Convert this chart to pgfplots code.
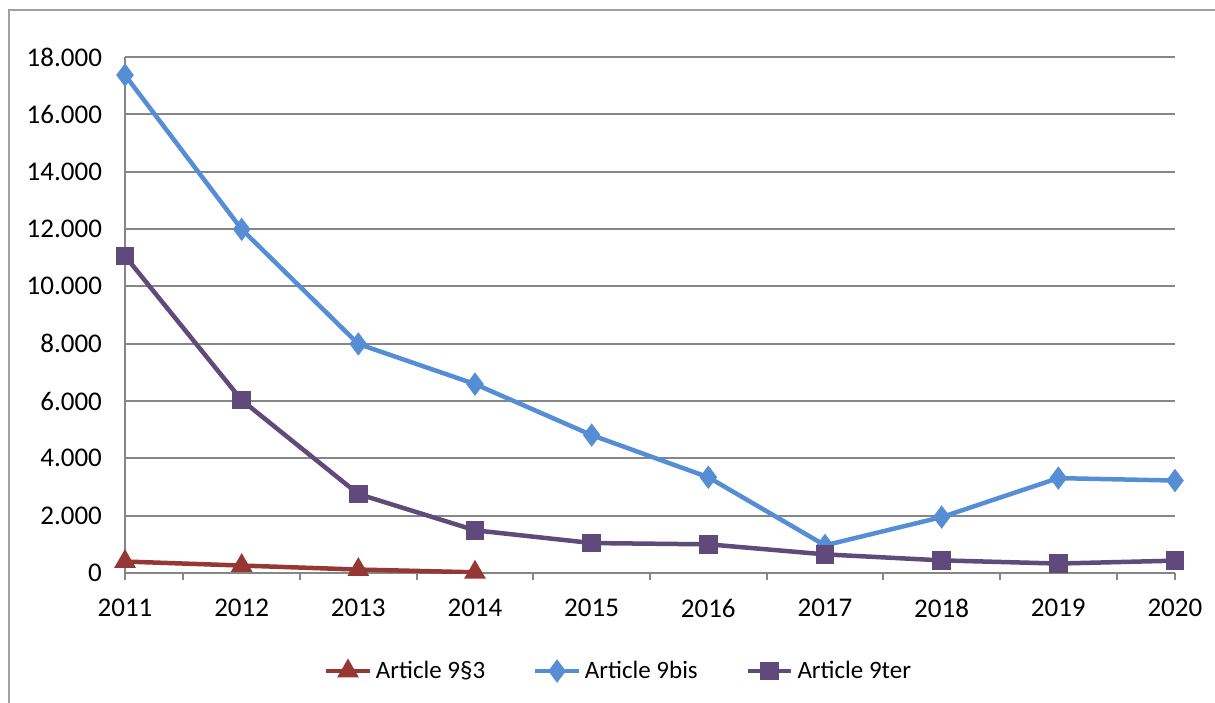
\documentclass[border=0pt]{standalone}
\usepackage{pgfplots}
\pgfplotsset{compat=1.18}
\usepackage{fontspec}
\setmainfont{Carlito}

\definecolor{c93}{RGB}{149,55,53}
\definecolor{cbis}{RGB}{85,142,213}
\definecolor{cter}{RGB}{96,74,123}
\definecolor{gridgray}{RGB}{134,134,134}
\definecolor{framegray}{RGB}{160,160,160}

\begin{document}
\begin{tikzpicture}
\useasboundingbox (-62.5pt,-64.5pt) rectangle (545pt,286.5pt);
\draw[framegray, line width=0.75pt] (-58pt,-70pt) -- (-58pt,281.5pt) -- (560pt,281.5pt);
\begin{axis}[
    at={(0,0)}, anchor=south west,
    scale only axis,
    width=525pt, height=258pt,
    xmin=2011, xmax=2020,
    ymin=0, ymax=18000,
    axis lines*=left,
    axis line style={gridgray, line width=1pt},
    xtick={2011,...,2020},
    minor xtick={2011,2011.5,2012.5,2013.5,2014.5,2015.5,2016.5,2017.5,2018.5,2019.5,2020},
    major tick length=0pt,
    minor tick length=3.5pt,
    tick align=outside,
    minor tick style={gridgray, line width=1pt},
    ytick={0,2000,...,18000},
    ymajorgrids,
    grid style={gridgray, line width=1pt},
    scaled y ticks=false,
    xticklabel={\pgfmathprintnumber[1000 sep={}]{\tick}},
    /pgf/number format/.cd, 1000 sep={.}, assume math mode=true,
    /pgfplots/.cd,
    ticklabel style={font=\fontsize{13.5}{16}\selectfont, text=black},
    xticklabel style={yshift=-9.5pt},
    yticklabel style={xshift=-8pt},
    legend style={at={(0.471,-0.19)}, anchor=center, draw=none,
        legend columns=3, font=\fontsize{12.5}{15}\selectfont,
        /tikz/every even column/.append style={column sep=22pt}},
    legend image code/.code={
        \draw[mark repeat=2, mark phase=2] plot coordinates {(0cm,0cm) (0.38cm,0cm) (0.76cm,0cm)};
    },
    every axis plot/.append style={line width=2.25pt},
]
\addplot[c93, mark=triangle*, mark size=4pt] coordinates {
    (2011,400)(2012,260)(2013,120)(2014,25)
};
\addlegendentry{Article 9§3}
\addplot[cbis, mark=diamond*, mark size=4pt] coordinates {
    (2011,17370)(2012,11990)(2013,7990)(2014,6590)(2015,4810)(2016,3340)(2017,965)(2018,1950)(2019,3310)(2020,3225)
};
\addlegendentry{Article 9bis}
\addplot[cter, mark=square*, mark size=3.5pt] coordinates {
    (2011,11060)(2012,6030)(2013,2755)(2014,1490)(2015,1045)(2016,1000)(2017,650)(2018,440)(2019,330)(2020,430)
};
\addlegendentry{Article 9ter}
\end{axis}
\end{tikzpicture}
\end{document}
